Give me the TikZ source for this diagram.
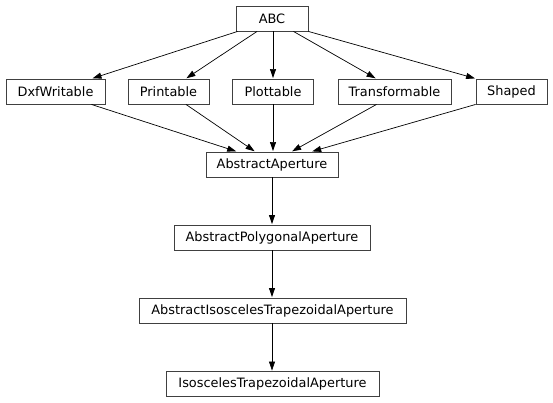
\documentclass[tikz,border=0pt]{standalone}
\usepackage{fontspec}
\setmainfont{DejaVu Sans}
\usetikzlibrary{arrows.meta}
\tikzset{
  box/.style={draw=black!75, line width=0.9pt, rectangle, inner sep=0pt, minimum height=25pt,
    font=\fontsize{12.9}{15}\selectfont, text=black},
  edge/.style={draw=black, line width=0.7pt, -{Triangle[length=9pt,width=6pt]}, shorten >=0.5pt}
}
\begin{document}
\begin{tikzpicture}[x=1pt,y=-1pt]
\useasboundingbox (0,0) rectangle (553,403);
\node[box, minimum width=72pt] (abc) at (272,18.5) {ABC};
\node[box, minimum width=99pt] (dxf) at (55.5,91.5) {DxfWritable};
\node[box, minimum width=81pt] (print) at (168.5,91.5) {Printable};
\node[box, minimum width=81pt] (plot) at (273,91.5) {Plottable};
\node[box, minimum width=113pt] (trans) at (394.5,91.5) {Transformable};
\node[box, minimum width=71pt] (shaped) at (511.5,91.5) {Shaped};
\node[box, minimum width=132pt] (aa) at (272,164.5) {AbstractAperture};
\node[box, minimum width=196pt] (apa) at (272,237.5) {AbstractPolygonalAperture};
\node[box, minimum width=267pt] (aita) at (272.5,310.5) {AbstractIsoscelesTrapezoidalAperture};
\node[box, minimum width=213pt] (ita) at (272.5,384) {IsoscelesTrapezoidalAperture};

\draw[edge] ([xshift=-34.5pt]abc.south) -- ([xshift=36.5pt]dxf.north);
\draw[edge] ([xshift=-15pt]abc.south) -- ([xshift=17.5pt]print.north);
\draw[edge] ([xshift=1pt]abc.south) -- (plot.north);
\draw[edge] ([xshift=21.5pt]abc.south) -- ([xshift=-18.5pt]trans.north);
\draw[edge] (abc.south east) -- (shaped.north west);

\draw[edge] ([xshift=36pt]dxf.south) -- ([xshift=-35.3pt]aa.north);
\draw[edge] ([xshift=17.5pt]print.south) -- ([xshift=-17pt]aa.north);
\draw[edge] (plot.south) -- ([xshift=1pt]aa.north);
\draw[edge] ([xshift=-18pt]trans.south) -- ([xshift=19.7pt]aa.north);
\draw[edge] (shaped.south west) -- ([xshift=39.7pt]aa.north);

\draw[edge] (aa.south) -- (apa.north);
\draw[edge] (apa.south) -- ([xshift=-0.5pt]aita.north);
\draw[edge] ([xshift=-0.5pt]aita.south) -- ([xshift=-0.5pt]ita.north);
\end{tikzpicture}
\end{document}
